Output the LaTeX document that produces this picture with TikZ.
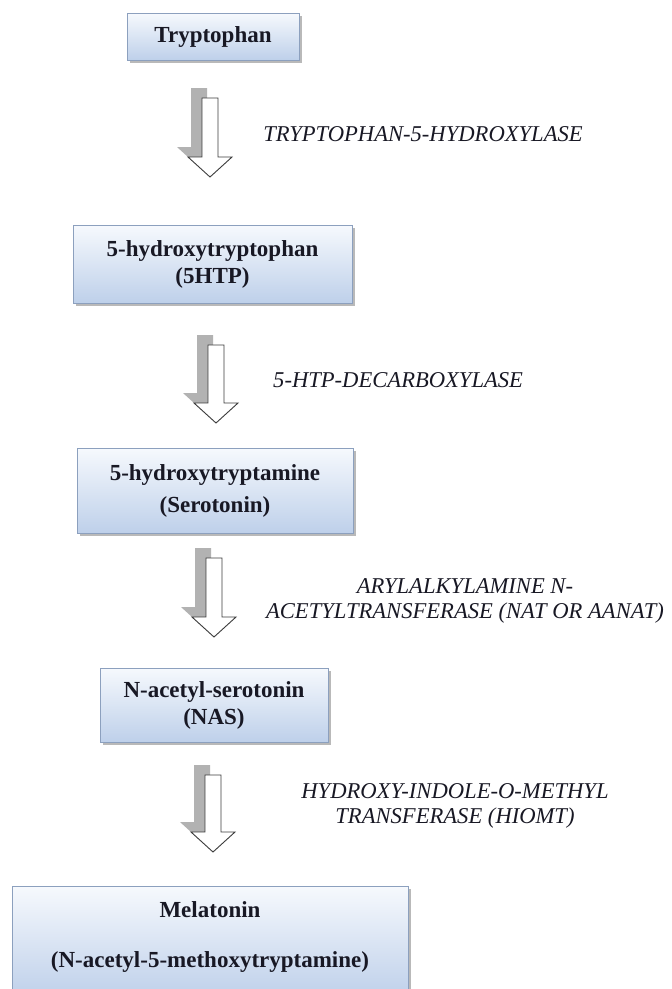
\documentclass[tikz,border=0pt]{standalone}
\usepackage{fontspec}
\setmainfont{Liberation Serif}
\usetikzlibrary{shadows}
\definecolor{boxtop}{RGB}{246,249,253}
\definecolor{boxbot}{RGB}{190,208,234}
\definecolor{boxline}{RGB}{140,160,190}
\definecolor{shadegray}{RGB}{178,178,178}
\definecolor{arrline}{RGB}{60,60,60}
\definecolor{inktext}{RGB}{24,24,36}
\tikzset{
  stepbox/.style={draw=boxline, line width=1pt, top color=boxtop, bottom color=boxbot,
    inner sep=0pt, align=center, font=\fontsize{23}{27}\selectfont\bfseries, text=inktext,
    drop shadow={shadow xshift=2.5pt, shadow yshift=-2.5pt, fill=gray!55, opacity=1}},
  enzyme/.style={font=\fontsize{22.6}{25}\selectfont\itshape, align=center, inner sep=0pt, text=inktext},
  arrowbody/.style={draw=arrline, line width=0.9pt, fill=white, line join=miter},
  arrowshade/.style={fill=shadegray},
}
\newcommand{\blockarrow}[3]{%
  \fill[arrowshade] ({#1-19},{#2-10}) -- ({#1-3},{#2-10}) -- ({#1-3},{#3-30}) -- ({#1+6},{#3-30})
     -- ({#1-11},{#3-10}) -- ({#1-33},{#3-30}) -- ({#1-19},{#3-30}) -- cycle;
  \draw[arrowbody] ({#1-8},#2) -- ({#1+8},#2) -- ({#1+8},{#3-20}) -- ({#1+22},{#3-20})
     -- (#1,#3) -- ({#1-22},{#3-20}) -- ({#1-8},{#3-20}) -- cycle;}
\begin{document}
\begin{tikzpicture}[x=1pt,y=-1pt]
\useasboundingbox (0,0) rectangle (672,989);
\fill[white] (0,0) rectangle (672,989);
\begin{scope}
\clip (0,0) rectangle (672,989);
\node[stepbox, minimum width=172pt, minimum height=47pt] (trp) at (213,36.5) {Tryptophan};
\node[stepbox, minimum width=279pt, minimum height=78pt] (htp) at (212.5,264) {5-hydroxytryptophan\\(5HTP)};
\node[stepbox, minimum width=276pt, minimum height=85pt] (ser) at (215,490.5) {5-hydroxytryptamine\\[5pt](Serotonin)};
\node[stepbox, minimum width=228pt, minimum height=74pt] (nas) at (214,705) {N-acetyl-serotonin\\(NAS)};
\node[stepbox, minimum width=396pt, minimum height=112pt] (mel) at (210,942) {Melatonin\\[23pt](N-acetyl-5-methoxytryptamine)\rule[-14pt]{0pt}{14pt}};
\end{scope}
\blockarrow{210}{98}{177}
\blockarrow{216}{345}{423}
\blockarrow{214}{558}{637}
\blockarrow{213}{775}{852}
\node[enzyme, anchor=base] (e1) at (423,141) {TRYPTOPHAN-5-HYDROXYLASE};
\node[enzyme, anchor=base west] (e2) at (273,387) {5-HTP-DECARBOXYLASE};
\node[enzyme] (e3) at (465,600.5) {ARYLALKYLAMINE N-\\ACETYLTRANSFERASE (NAT OR AANAT)};
\node[enzyme] (e4) at (455,805.5) {HYDROXY-INDOLE-O-METHYL\\TRANSFERASE (HIOMT)};
\end{tikzpicture}
\end{document}
